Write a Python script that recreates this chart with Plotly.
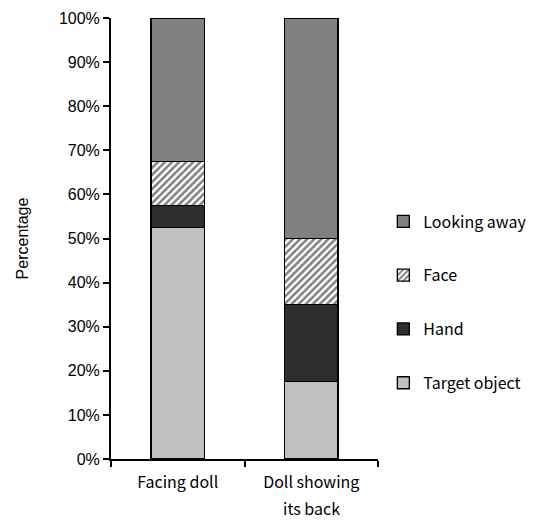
import plotly.graph_objects as go

categories = ["Facing doll", "Doll showing its back"]
category_line1 = ["Facing doll", "Doll showing"]
category_line2 = ["", "its back"]
target_object = [52.5, 17.5]
hand = [5.0, 17.5]
face = [10.0, 15.0]
looking_away = [32.5, 50.0]
tick_vals = [0, 10, 20, 30, 40, 50, 60, 70, 80, 90, 100]
tick_text = [f"{v}%" for v in tick_vals]

series = [
    ("Target object", target_object, "#c0c0c0", None),
    ("Hand", hand, "#2d2d2d", None),
    ("Face", face, "#ffffff", "/"),
    ("Looking away", looking_away, "#808080", None),
]

fig = go.Figure()
n = len(series)
for i, (name, vals, color, pat) in enumerate(series):
    marker = dict(color=color, line=dict(color="#000000", width=1.3))
    if pat:
        marker["pattern"] = dict(shape=pat, fgcolor="#000000", bgcolor="#ffffff",
                                 size=5, solidity=0.5)
    fig.add_trace(go.Bar(x=categories, y=vals, name=name, marker=marker,
                         width=0.4, legendgroup=f"g{i}", legendrank=n - i))

label_font = dict(family="Noto Sans CJK JP, sans-serif", size=16, color="#000000")
for cat, line2 in zip(categories, category_line2):
    if line2:
        fig.add_annotation(x=cat, xref="x", y=0, yref="paper", yshift=-49,
                           text=line2, showarrow=False, font=label_font,
                           yanchor="middle")

fig.update_layout(
    width=536, height=522,
    barmode="stack",
    plot_bgcolor="#ffffff", paper_bgcolor="#ffffff",
    margin=dict(l=111, r=158, t=18, b=63, autoexpand=False),
    font=dict(family="Liberation Sans, Arial, sans-serif", size=16, color="#000000"),
    showlegend=True,
    legend=dict(traceorder="grouped", tracegroupgap=30,
                x=1.02, xanchor="left", y=0.355, yanchor="middle",
                font=dict(family="Noto Sans CJK JP, sans-serif", size=16),
                itemwidth=30, bgcolor="rgba(0,0,0,0)"),
)
fig.update_xaxes(showline=True, linecolor="#000000", linewidth=2,
                 ticks="outside", ticklen=6, tickwidth=2, tickcolor="#000000",
                 tickson="boundaries", range=[-0.5, 1.5], automargin=False,
                 tickvals=categories, ticktext=category_line1,
                 ticklabelstandoff=8, tickfont=label_font)
fig.update_yaxes(range=[0, 100], tickvals=tick_vals, ticktext=tick_text,
                 showline=True, linecolor="#000000", linewidth=2,
                 ticks="outside", ticklen=6, tickwidth=2, tickcolor="#000000",
                 showgrid=False, zeroline=False, automargin=False,
                 title=dict(text="Percentage", standoff=26,
                            font=dict(family="Liberation Sans, Arial, sans-serif", size=16)))

fig.write_html("out.html", config={"displayModeBar": False},
               post_script="document.body.style.margin='0';")
